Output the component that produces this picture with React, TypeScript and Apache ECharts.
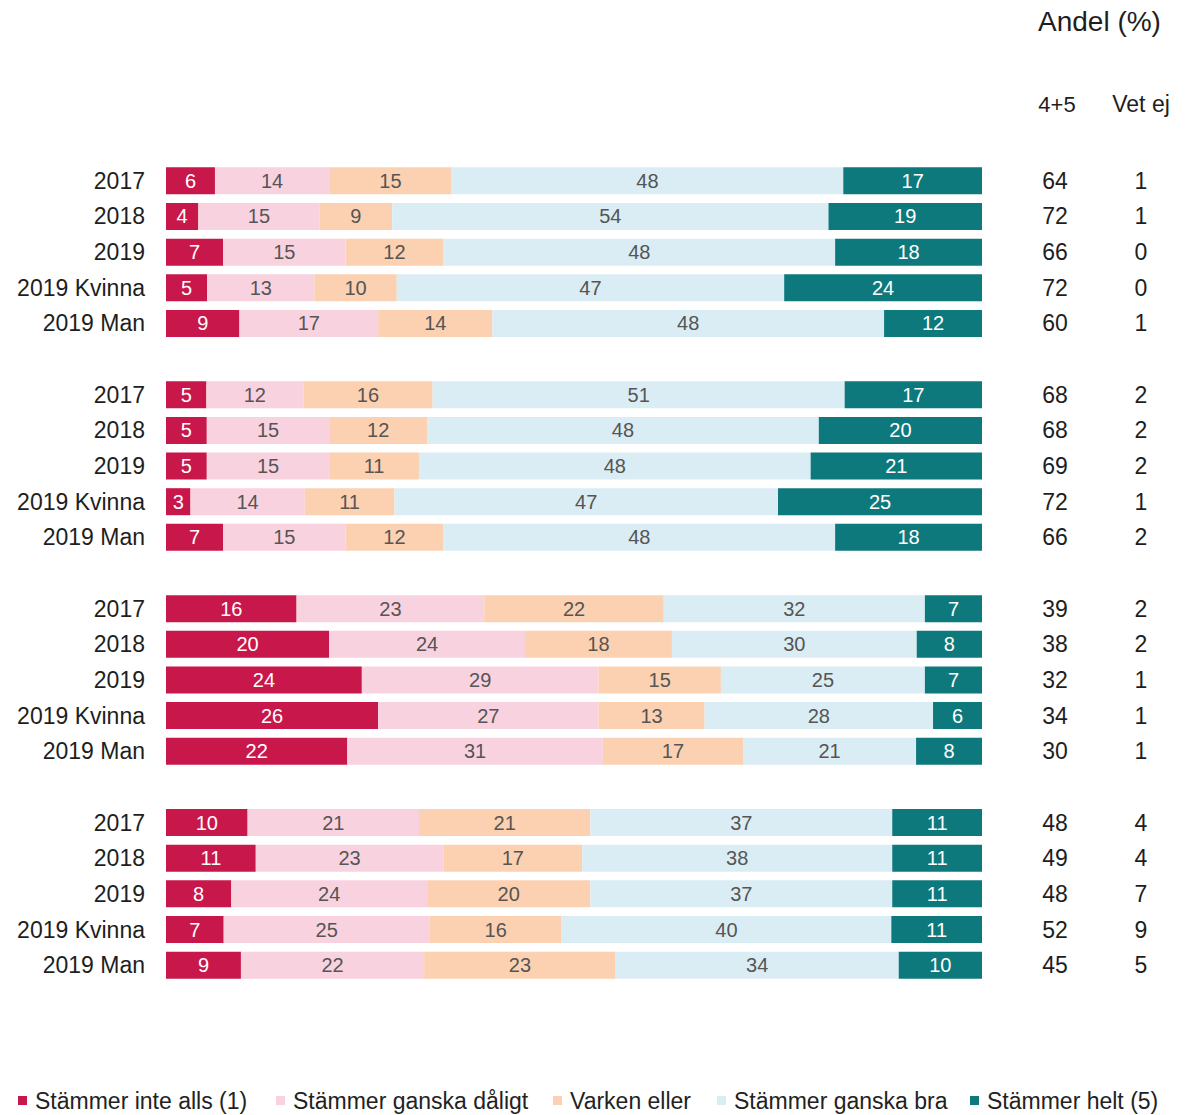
import React, { useEffect, useRef } from "react";
import * as echarts from "echarts";

const rowLabels = ["2017", "2018", "2019", "2019 Kvinna", "2019 Man"];
const groupCount = 4;

const seriesNames = [
  "Stämmer inte alls (1)",
  "Stämmer ganska dåligt",
  "Varken eller",
  "Stämmer ganska bra",
  "Stämmer helt (5)",
];

const inteAlls = [6, 4, 7, 5, 9, 5, 5, 5, 3, 7, 16, 20, 24, 26, 22, 10, 11, 8, 7, 9];
const gansaDaligt = [14, 15, 15, 13, 17, 12, 15, 15, 14, 15, 23, 24, 29, 27, 31, 21, 23, 24, 25, 22];
const varkenEller = [15, 9, 12, 10, 14, 16, 12, 11, 11, 12, 22, 18, 15, 13, 17, 21, 17, 20, 16, 23];
const ganskaBra = [48, 54, 48, 47, 48, 51, 48, 48, 47, 48, 32, 30, 25, 28, 21, 37, 38, 37, 40, 34];
const helt = [17, 19, 18, 24, 12, 17, 20, 21, 25, 18, 7, 8, 7, 6, 8, 11, 11, 11, 11, 10];

const andel45 = [64, 72, 66, 72, 60, 68, 68, 69, 72, 66, 39, 38, 32, 34, 30, 48, 49, 48, 52, 45];
const vetEj = [1, 1, 0, 0, 1, 2, 2, 2, 1, 2, 2, 2, 1, 1, 1, 4, 4, 7, 9, 5];

const colors = ["#c8174a", "#f9d2e0", "#fbd1b1", "#dbedf4", "#0e797d"];
const labelColors = ["#ffffff", "#555555", "#555555", "#555555", "#ffffff"];
const legendLeft = [13, 271, 548, 712, 965];

const FONT = "'Liberation Sans', Arial, sans-serif";

export default function App() {
  const ref = useRef<HTMLDivElement>(null);

  useEffect(() => {
    document.body.style.margin = "0";
    if (!ref.current) return;
    const chart = echarts.init(ref.current, null, { renderer: "svg" });

    // build slots: 5 rows per group, a blank slot between groups
    const slotIndex: (number | null)[] = [];
    for (let g = 0; g < groupCount; g++) {
      for (let i = 0; i < rowLabels.length; i++) slotIndex.push(g * rowLabels.length + i);
      if (g < groupCount - 1) slotIndex.push(null);
    }
    const cats = slotIndex.map((idx) => (idx === null ? "" : rowLabels[idx % rowLabels.length]));
    const rightLabels = slotIndex.map((idx) =>
      idx === null ? "" : `{a|${andel45[idx]}}{b|${vetEj[idx]}}`
    );
    const allSeries = [inteAlls, gansaDaligt, varkenEller, ganskaBra, helt];
    // each row is shown as a 100% bar (shares of those who answered)
    const rowTotals = inteAlls.map((_, i) => allSeries.reduce((s, arr) => s + arr[i], 0));

    const option: any = {
      animation: false,
      textStyle: { fontFamily: FONT },
      grid: { left: 166, top: 163, width: 816, height: 820, containLabel: false },
      xAxis: {
        type: "value",
        min: 0,
        max: 100,
        show: false,
      },
      yAxis: [
        {
          type: "category",
          inverse: true,
          data: cats,
          axisLine: { show: false },
          axisTick: { show: false },
          axisLabel: { fontSize: 23, color: "#1e1e1e", margin: 21, fontFamily: FONT },
        },
        {
          type: "category",
          inverse: true,
          position: "right",
          data: rightLabels,
          axisLine: { show: false },
          axisTick: { show: false },
          axisLabel: {
            margin: 33,
            align: "left",
            fontFamily: FONT,
            rich: {
              a: { width: 80, align: "center", fontSize: 23, color: "#1e1e1e", fontFamily: FONT },
              b: { width: 92, align: "center", fontSize: 23, color: "#1e1e1e", fontFamily: FONT },
            },
          },
        },
      ],
      legend: seriesNames.map((n, i) => ({
        data: [n],
        left: legendLeft[i],
        top: 1084,
        icon: "rect",
        itemWidth: 9,
        itemHeight: 9,
        selectedMode: false,
        textStyle: { fontSize: 23, color: "#222", fontFamily: FONT, padding: [0, 0, 0, 3] },
      })),
      series: allSeries.map((arr, s) => ({
        name: seriesNames[s],
        type: "bar",
        stack: "total",
        barWidth: 27,
        yAxisIndex: 0,
        itemStyle: { color: colors[s] },
        label: {
          show: true,
          position: "inside",
          fontSize: 20,
          color: labelColors[s],
          fontFamily: FONT,
          formatter: (p: any) => (p.data && p.data.orig != null ? String(p.data.orig) : ""),
        },
        data: slotIndex.map((idx) =>
          idx === null ? "-" : { value: (arr[idx] * 100) / rowTotals[idx], orig: arr[idx] }
        ),
      })),
      graphic: [
        {
          type: "text",
          left: 1038,
          top: 7,
          style: { text: "Andel (%)", fontSize: 28, fill: "#1e1e1e", fontFamily: FONT },
        },
        {
          type: "text",
          x: 1057,
          y: 104,
          style: {
            text: "4+5",
            fontSize: 22,
            fill: "#1e1e1e",
            fontFamily: FONT,
            align: "center",
            verticalAlign: "middle",
          },
        },
        {
          type: "text",
          x: 1141,
          y: 104,
          style: {
            text: "Vet ej",
            fontSize: 23,
            fill: "#1e1e1e",
            fontFamily: FONT,
            align: "center",
            verticalAlign: "middle",
          },
        },
      ],
    };

    chart.setOption(option);
    return () => chart.dispose();
  }, []);

  return <div ref={ref} style={{ width: 1185, height: 1115 }} />;
}
